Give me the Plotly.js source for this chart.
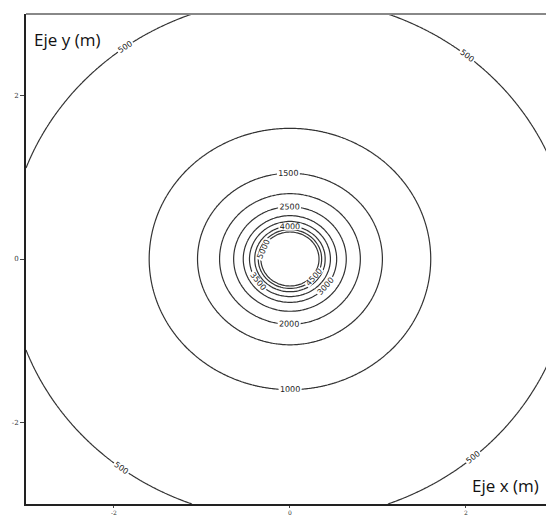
<!DOCTYPE html>
<html>
<head>
<meta charset="utf-8">
<script src="https://cdn.plot.ly/plotly-3.0.1.min.js"></script>
<style>html,body{margin:0;padding:0;background:#fff;}#chart{width:546px;height:517px;}</style>
</head>
<body>
<div id="chart"></div>
<script>
const levels = [500, 1000, 1500, 2000, 2500, 3000, 3500, 4000, 4500, 5000];
const radii  = [3.2, 1.6, 1.05, 0.8, 0.64, 0.53, 0.46, 0.40, 0.36, 0.33];
const xTicks = [-2, 0, 2];
const yTicks = [-2, 0, 2];

// Build the field table that the contour trace needs (log-log lookup of the readings)
function levelAt(r) {
  r = Math.max(r, 0.05);
  let i = 0;
  if (r >= radii[0]) i = 0;
  else if (r <= radii[radii.length - 1]) i = radii.length - 2;
  else { while (!(r <= radii[i] && r >= radii[i + 1])) i++; }
  const lr0 = Math.log(radii[i]), lr1 = Math.log(radii[i + 1]);
  const lz0 = Math.log(levels[i]), lz1 = Math.log(levels[i + 1]);
  const t = (Math.log(r) - lr0) / (lr1 - lr0);
  return Math.exp(lz0 + t * (lz1 - lz0));
}
const grid = [];
for (let k = 0; k <= 300; k++) grid.push(-3 + k * 0.02);
const z = grid.map(y => grid.map(x => levelAt(Math.hypot(x, y))));

const trace = {
  type: 'contour', x: grid, y: grid, z: z,
  autocontour: false,
  contours: {start: levels[0], end: levels[levels.length - 1], size: 500,
             coloring: 'lines', showlabels: true,
             labelfont: {family: 'DejaVu Sans', size: 8, color: '#222'}},
  colorscale: [[0, '#333'], [1, '#333']],
  line: {width: 1.2, smoothing: 1},
  showscale: false, hoverinfo: 'skip'
};

const layout = {
  width: 546, height: 517,
  margin: {l: 26, r: 0, t: 14, b: 13},
  paper_bgcolor: '#fff', plot_bgcolor: '#fff',
  showlegend: false,
  xaxis: {range: [-3, 2.91], tickvals: xTicks, ticktext: xTicks.map(String),
          showgrid: false, zeroline: false, showline: true, linecolor: '#222', linewidth: 2,
          ticks: 'outside', ticklen: 2, tickcolor: '#444',
          tickfont: {family: 'DejaVu Serif', size: 6, color: '#333'}},
  yaxis: {range: [-3, 3], tickvals: yTicks, ticktext: yTicks.map(String),
          showgrid: false, zeroline: false, showline: true, linecolor: '#222', linewidth: 2,
          ticks: 'outside', ticklen: 4, tickcolor: '#444',
          tickfont: {family: 'DejaVu Serif', size: 7, color: '#333'}},
  shapes: [{type: 'line', xref: 'paper', yref: 'paper', x0: 0, x1: 1, y0: 1, y1: 1,
            line: {color: '#888', width: 2}}],
  annotations: [
    {text: 'Eje y (m)', xref: 'paper', yref: 'paper', x: 0.012, y: 0.975,
     xanchor: 'left', yanchor: 'top', showarrow: false,
     font: {family: 'Open Sans', size: 17, color: '#111'}},
    {text: 'Eje x (m)', xref: 'paper', yref: 'paper', x: 0.99, y: 0.01,
     xanchor: 'right', yanchor: 'bottom', showarrow: false, bgcolor: '#fff',
     font: {family: 'Open Sans', size: 17, color: '#111'}}
  ]
};

Plotly.newPlot('chart', [trace], layout, {staticPlot: true});
</script>
</body>
</html>
